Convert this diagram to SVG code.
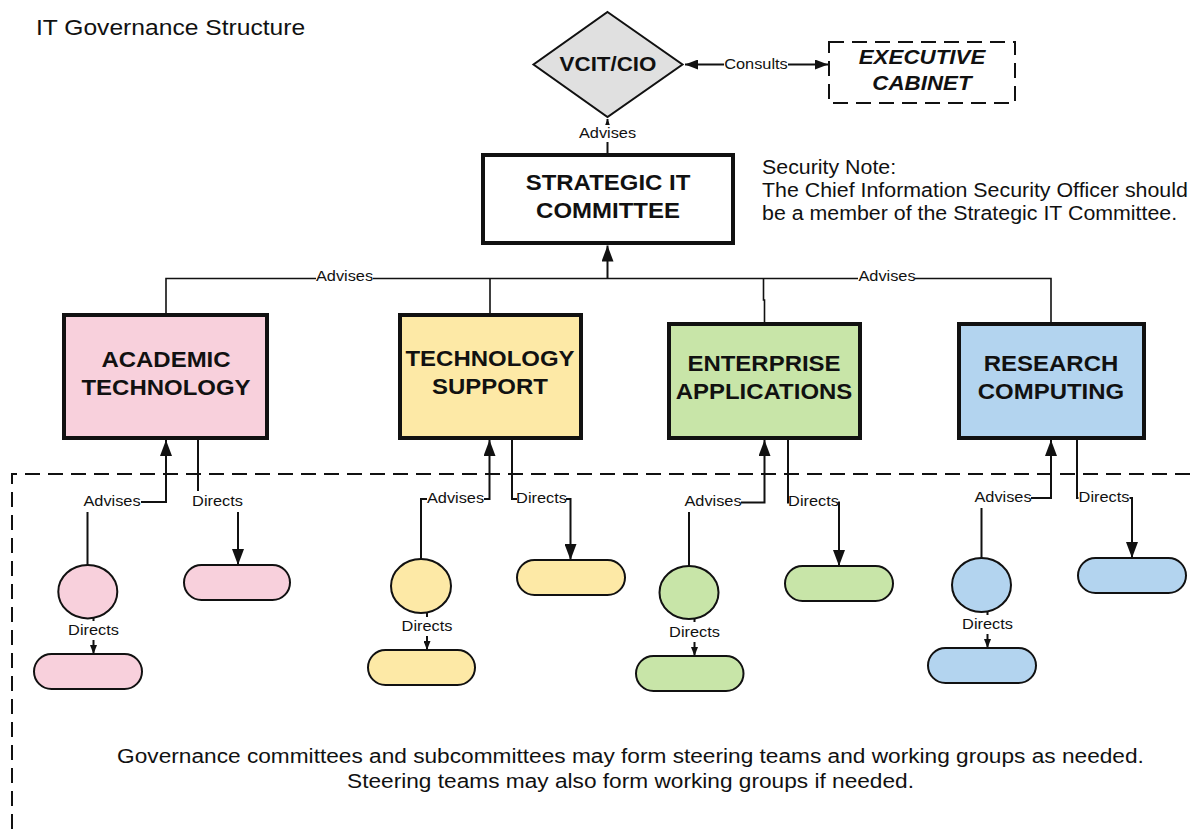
<svg xmlns="http://www.w3.org/2000/svg" width="1197" height="829" viewBox="0 0 1197 829">
<style>
text{font-family:"Liberation Sans",Arial,sans-serif;fill:#111}
.title{font-size:22.6px}
.note{font-size:19.6px}
.foot{font-size:20.8px;text-anchor:middle}
.bt{font-size:22px;font-weight:bold;text-anchor:middle}
.dt{font-size:20.5px;font-weight:bold;text-anchor:middle}
.et{font-size:20.5px;font-weight:bold;font-style:italic;text-anchor:middle}
.lbl{font-size:15px;text-anchor:middle}
.box{stroke:#111;stroke-width:4}
.sub{stroke:#111;stroke-width:2}
.ln{fill:none;stroke:#111;stroke-width:2}
.bus{fill:none;stroke:#111;stroke-width:1.6}
.bg{fill:#fff}
.pk{fill:#f8d0dc}.yw{fill:#fde9a6}.gr{fill:#c8e5a8}.bl{fill:#b3d4ef}
</style>
<defs>
<marker id="arr" markerUnits="userSpaceOnUse" markerWidth="16" markerHeight="12" refX="16" refY="6" orient="auto"><path d="M0,0 L16,6 L0,12 z" fill="#111"/></marker>
<marker id="arrh" markerUnits="userSpaceOnUse" markerWidth="13" markerHeight="10" refX="13" refY="5" orient="auto-start-reverse"><path d="M0,0 L13,5 L0,10 z" fill="#111"/></marker>
<marker id="sm" markerUnits="userSpaceOnUse" markerWidth="9" markerHeight="7" refX="9" refY="3.5" orient="auto"><path d="M0,0 L9,3.5 L0,7 z" fill="#111"/></marker>
</defs>
<rect width="1197" height="829" fill="#fff"/>
<text class="title" transform="translate(36,0) scale(1.09,1)" x="0" y="35">IT Governance Structure</text>
<path id="scope" d="M12,829 V474 H1197" fill="none" stroke="#111" stroke-width="2" stroke-dasharray="15 8"/>
<g id="connectors">
<path class="ln" d="M607.5,153 V119" marker-end="url(#sm)"/>
<path class="ln" d="M685,64.5 H828" marker-start="url(#arrh)" marker-end="url(#arrh)"/>
<path class="bus" d="M166,313 V278.5 H1051 V322 M490,278.5 V313 M763.5,278.5 V300 H764.5 V322"/>
<path class="ln" d="M607.5,278.5 V245.5" marker-end="url(#arr)"/>
<path class="ln" d="M87.5,565 V502 H166 V440" marker-end="url(#arr)"/>
<path class="ln" d="M198,440 V502 H238 V565" marker-end="url(#arr)"/>
<path class="ln" d="M93.5,618 V654" marker-end="url(#sm)"/>
<path class="ln" d="M421,559 V499 H489.5 V440" marker-end="url(#arr)"/>
<path class="ln" d="M512,440 V499 H570.5 V560" marker-end="url(#arr)"/>
<path class="ln" d="M427,613 V650" marker-end="url(#sm)"/>
<path class="ln" d="M689,566 V502.5 H764.5 V440" marker-end="url(#arr)"/>
<path class="ln" d="M788,440 V502.5 H839 V566" marker-end="url(#arr)"/>
<path class="ln" d="M694.5,619 V656" marker-end="url(#sm)"/>
<path class="ln" d="M981.5,558 V498 H1051 V440" marker-end="url(#arr)"/>
<path class="ln" d="M1077,440 V498 H1132 V558" marker-end="url(#arr)"/>
<path class="ln" d="M987.5,612 V648" marker-end="url(#sm)"/>
<rect class="bg" x="579" y="125" width="57" height="17"/>
<text class="lbl" transform="translate(607.5,0) scale(1.09,1)" x="0" y="138">Advises</text>
<rect class="bg" x="724" y="55" width="64" height="19"/>
<text class="lbl" transform="translate(756,0) scale(1.09,1)" x="0" y="69.5">Consults</text>
<rect class="bg" x="316" y="268" width="57" height="17"/>
<text class="lbl" transform="translate(344.5,0) scale(1.09,1)" x="0" y="281">Advises</text>
<rect class="bg" x="858" y="268" width="57" height="17"/>
<text class="lbl" transform="translate(887,0) scale(1.09,1)" x="0" y="281">Advises</text>
<rect class="bg" x="83" y="491" width="58" height="21"/>
<text class="lbl" transform="translate(112,0) scale(1.09,1)" x="0" y="506">Advises</text>
<rect class="bg" x="192" y="491" width="51" height="21"/>
<text class="lbl" transform="translate(217.5,0) scale(1.09,1)" x="0" y="506">Directs</text>
<rect class="bg" x="68" y="621" width="51" height="19"/>
<text class="lbl" transform="translate(93.5,0) scale(1.09,1)" x="0" y="635.5">Directs</text>
<rect class="bg" x="427" y="488" width="57" height="20"/>
<text class="lbl" transform="translate(455.5,0) scale(1.09,1)" x="0" y="503">Advises</text>
<rect class="bg" x="517" y="488" width="49" height="20"/>
<text class="lbl" transform="translate(541.5,0) scale(1.09,1)" x="0" y="503">Directs</text>
<rect class="bg" x="402" y="617" width="50" height="19"/>
<text class="lbl" transform="translate(427,0) scale(1.09,1)" x="0" y="631.5">Directs</text>
<rect class="bg" x="685" y="491" width="56" height="21"/>
<text class="lbl" transform="translate(713,0) scale(1.09,1)" x="0" y="506.5">Advises</text>
<rect class="bg" x="789" y="491" width="49" height="21"/>
<text class="lbl" transform="translate(813.5,0) scale(1.09,1)" x="0" y="506.5">Directs</text>
<rect class="bg" x="669" y="622" width="51" height="20"/>
<text class="lbl" transform="translate(694.5,0) scale(1.09,1)" x="0" y="637.5">Directs</text>
<rect class="bg" x="975" y="487" width="56" height="21"/>
<text class="lbl" transform="translate(1003,0) scale(1.09,1)" x="0" y="502">Advises</text>
<rect class="bg" x="1078.5" y="487" width="51" height="21"/>
<text class="lbl" transform="translate(1104,0) scale(1.09,1)" x="0" y="502">Directs</text>
<rect class="bg" x="962" y="615" width="51" height="19"/>
<text class="lbl" transform="translate(987.5,0) scale(1.09,1)" x="0" y="629.5">Directs</text>
</g>
<g id="vcit">
<polygon points="607.5,12 682.5,64.5 607.5,117 533.5,64.5" fill="#e0e0e0" stroke="#111" stroke-width="2"/>
<text class="dt" transform="translate(608,0) scale(1.09,1)" x="0" y="71">VCIT/CIO</text>
</g>
<g id="exec">
<rect x="829" y="42" width="186" height="61" fill="none" stroke="#111" stroke-width="2" stroke-dasharray="15 8"/>
<text class="et" transform="translate(922,0) scale(1.09,1)"><tspan x="0" y="64">EXECUTIVE</tspan><tspan x="0" y="90">CABINET</tspan></text>
</g>
<g id="strategic">
<rect class="box" x="483" y="155" width="250" height="88" fill="#fff"/>
<text class="bt" transform="translate(608,0) scale(1.09,1)"><tspan x="0" y="190">STRATEGIC IT</tspan><tspan x="0" y="218">COMMITTEE</tspan></text>
</g>
<g id="security-note">
<text class="note" transform="translate(762,0) scale(1.09,1)"><tspan x="0" y="174">Security Note:</tspan><tspan x="0" y="197">The Chief Information Security Officer should</tspan><tspan x="0" y="220">be a member of the Strategic IT Committee.</tspan></text>
</g>
<g id="academic">
<rect class="box pk" x="64" y="315" width="203" height="123"/>
<text class="bt" transform="translate(166,0) scale(1.09,1)"><tspan x="0" y="367">ACADEMIC</tspan><tspan x="0" y="395">TECHNOLOGY</tspan></text>
</g>
<g id="academic-sub"><ellipse class="sub pk" cx="87.8" cy="591.7" rx="29.5" ry="26.7"/></g>
<g id="academic-team"><rect class="sub pk" x="184" y="565" width="106" height="35" rx="17.5"/></g>
<g id="academic-wg"><rect class="sub pk" x="34" y="654" width="108" height="35" rx="17.5"/></g>
<g id="techsupport">
<rect class="box yw" x="400" y="315" width="181" height="123"/>
<text class="bt" transform="translate(490,0) scale(1.09,1)"><tspan x="0" y="366">TECHNOLOGY</tspan><tspan x="0" y="394">SUPPORT</tspan></text>
</g>
<g id="tech-sub"><ellipse class="sub yw" cx="421" cy="586" rx="30" ry="27"/></g>
<g id="tech-team"><rect class="sub yw" x="517" y="560" width="108" height="35" rx="17.5"/></g>
<g id="tech-wg"><rect class="sub yw" x="368" y="650" width="107" height="35" rx="17.5"/></g>
<g id="enterprise">
<rect class="box gr" x="669" y="324" width="191" height="114"/>
<text class="bt" transform="translate(764,0) scale(1.09,1)"><tspan x="0" y="371">ENTERPRISE</tspan><tspan x="0" y="399">APPLICATIONS</tspan></text>
</g>
<g id="ent-sub"><ellipse class="sub gr" cx="689" cy="592.5" rx="29.5" ry="26.5"/></g>
<g id="ent-team"><rect class="sub gr" x="785" y="566" width="108" height="35" rx="17.5"/></g>
<g id="ent-wg"><rect class="sub gr" x="636" y="656" width="107.5" height="35" rx="17.5"/></g>
<g id="research">
<rect class="box bl" x="959" y="324" width="185" height="114"/>
<text class="bt" transform="translate(1051,0) scale(1.09,1)"><tspan x="0" y="371">RESEARCH</tspan><tspan x="0" y="399">COMPUTING</tspan></text>
</g>
<g id="res-sub"><ellipse class="sub bl" cx="981.5" cy="585" rx="29.5" ry="27"/></g>
<g id="res-team"><rect class="sub bl" x="1078" y="558" width="108" height="35" rx="17.5"/></g>
<g id="res-wg"><rect class="sub bl" x="928" y="648" width="108" height="35" rx="17.5"/></g>
<g id="footnote">
<text class="foot" transform="translate(630.5,0) scale(1.09,1)"><tspan x="0" y="763">Governance committees and subcommittees may form steering teams and working groups as needed.</tspan><tspan x="0" y="788">Steering teams may also form working groups if needed.</tspan></text>
</g>
</svg>
